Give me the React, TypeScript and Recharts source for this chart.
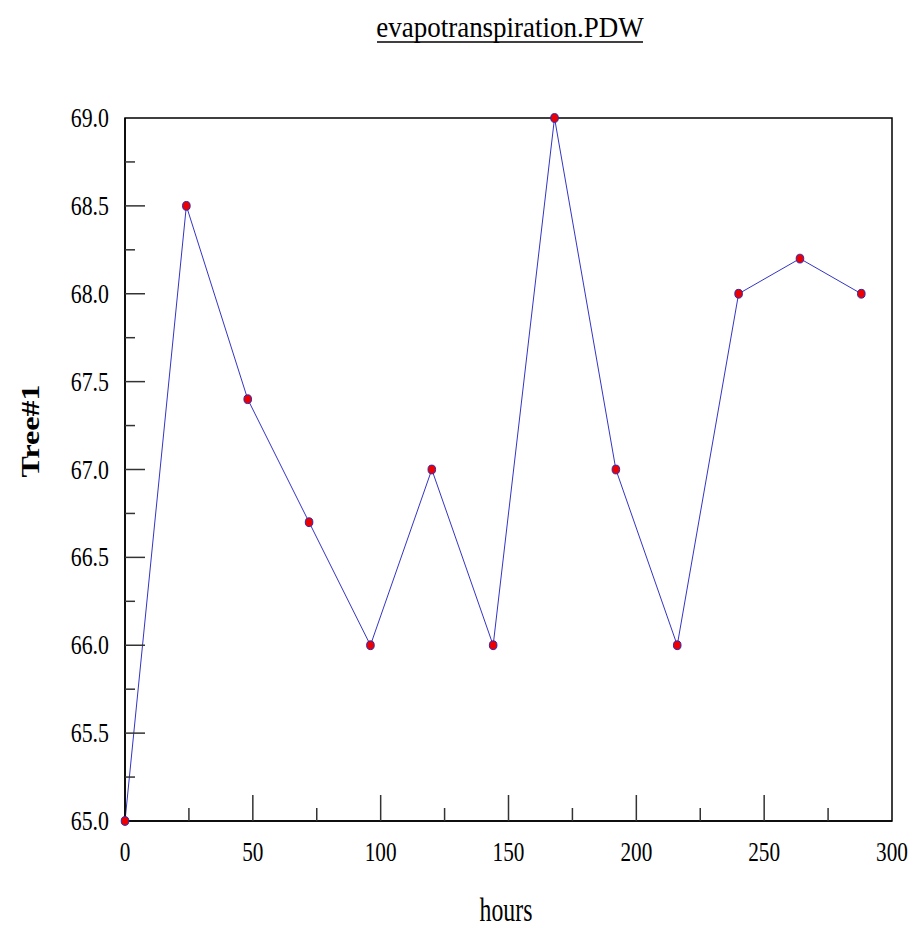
import { LineChart, Line, XAxis, YAxis, ReferenceArea } from "recharts";

// hours sampled every 24h, Tree#1 reading at each
const hours = [0, 24, 48, 72, 96, 120, 144, 168, 192, 216, 240, 264, 288];
const tree1 = [65.0, 68.5, 67.4, 66.7, 66.0, 67.0, 66.0, 69.0, 67.0, 66.0, 68.0, 68.2, 68.0];

const xTicks = [0, 25, 50, 75, 100, 125, 150, 175, 200, 225, 250, 275, 300];
const xLabelTicks = [0, 50, 100, 150, 200, 250, 300];
const yTicks = [
  65, 65.25, 65.5, 65.75, 66, 66.25, 66.5, 66.75, 67, 67.25, 67.5, 67.75, 68, 68.25, 68.5, 68.75, 69,
];
const yLabelTicks = [65, 65.5, 66, 66.5, 67, 67.5, 68, 68.5, 69];

const title = "evapotranspiration.PDW";
const xTitle = "hours";
const yTitle = "Tree#1";

const data = hours.map((h, i) => ({ hours: h, tree1: tree1[i] }));

const serif = { fontFamily: "'Liberation Serif', 'Times New Roman', serif" };
const W = 922;
const H = 928;

function XTick(props: any) {
  const { x, y, payload } = props;
  const v = payload.value;
  const major = xLabelTicks.includes(v);
  return (
    <g>
      {v > 0 && v < 300 && (
        <line x1={x} x2={x} y1={y} y2={y - (major ? 26 : 13)} stroke="#333" strokeWidth={1.5} />
      )}
      {major && (
        <text
          transform={`translate(${x},${y + 40}) scale(0.76,1)`}
          textAnchor="middle"
          fontSize={28}
          style={serif}
          fill="#000"
        >
          {v}
        </text>
      )}
    </g>
  );
}

function YTick(props: any) {
  const { x, y, payload } = props;
  const v = payload.value;
  const major = yLabelTicks.includes(v);
  return (
    <g>
      {v > 65 && v < 69 && (
        <line x1={x} x2={x + (major ? 20 : 10)} y1={y} y2={y} stroke="#333" strokeWidth={1.5} />
      )}
      {major && (
        <text
          transform={`translate(${x - 16},${y + 9}) scale(0.78,1)`}
          textAnchor="end"
          fontSize={28}
          style={serif}
          fill="#000"
        >
          {v.toFixed(1)}
        </text>
      )}
    </g>
  );
}

function Dot(props: any) {
  const { cx, cy } = props;
  if (cx == null || cy == null) return null;
  return <ellipse cx={cx} cy={cy} rx={3.8} ry={4.4} fill="#ee0000" stroke="#2a2ab8" strokeWidth={1} />;
}

export default function App() {
  return (
    <div style={{ position: "absolute", left: 0, top: 0, width: W, height: H, background: "#fff" }}>
      <LineChart width={W} height={H} data={data} margin={{ top: 118, right: 30, bottom: 0, left: 0 }}>
        <XAxis
          dataKey="hours"
          type="number"
          domain={[0, 300]}
          ticks={xTicks}
          interval={0}
          height={107}
          tickLine={false}
          tickSize={0}
          tickMargin={0}
          axisLine={{ stroke: "#000", strokeWidth: 1.5 }}
          tick={<XTick />}
        />
        <YAxis
          type="number"
          domain={[65, 69]}
          ticks={yTicks}
          interval={0}
          width={125}
          tickLine={false}
          tickSize={0}
          tickMargin={0}
          axisLine={{ stroke: "#000", strokeWidth: 1.5 }}
          tick={<YTick />}
        />
        <ReferenceArea x1={0} x2={300} y1={65} y2={69} fill="none" stroke="#000" strokeWidth={1.5} />
        <Line
          dataKey="tree1"
          type="linear"
          stroke="#3434c4"
          strokeWidth={1}
          dot={<Dot />}
          activeDot={false}
          isAnimationActive={false}
        />
        <text
          transform="translate(510,37) scale(0.9,1)"
          textAnchor="middle"
          fontSize={30}
          style={serif}
          fill="#000"
        >
          {title}
        </text>
        <line x1={377} x2={643} y1={42} y2={42} stroke="#000" strokeWidth={1.5} />
        <text
          transform="translate(506,921) scale(0.72,1)"
          textAnchor="middle"
          fontSize={33}
          style={serif}
          fill="#000"
        >
          {xTitle}
        </text>
        <text
          transform="translate(39,431) scale(0.8,1) rotate(-90)"
          textAnchor="middle"
          fontSize={32}
          fontWeight="bold"
          style={serif}
          fill="#000"
        >
          {yTitle}
        </text>
      </LineChart>
    </div>
  );
}
